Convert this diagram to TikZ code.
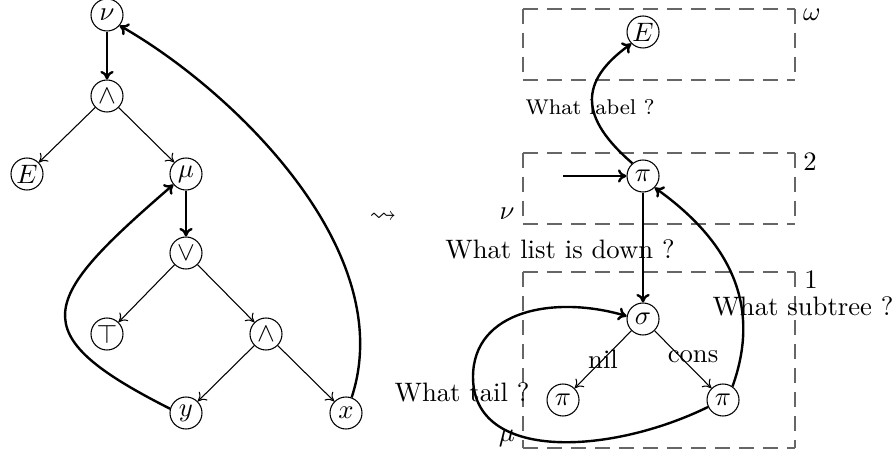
\documentclass[tikz,border=0pt]{standalone}
\usepackage{amssymb}
\usetikzlibrary{arrows.meta}

\tikzset{
  vtx/.style={draw,circle,inner sep=0pt,minimum size=12pt,line width=0.4pt},
  thinarr/.style={-{Computer Modern Rightarrow[length=3pt,width=4.5pt]},line width=0.4pt},
  thickarr/.style={-{Computer Modern Rightarrow[length=3.2pt,width=5pt]},line width=0.9pt},
  dashbox/.style={black!60,line width=0.5pt,dash pattern=on 5.6pt off 3.4pt},
  lbl/.style={inner sep=0pt}
}

\begin{document}
\begin{tikzpicture}[x=0.375pt,y=-0.375pt]
  \useasboundingbox (0,0) rectangle (896,457);

  % --- left graph ---
  \node[vtx] (nu)   at (107,15)  {$\nu$};
  \node[vtx] (andA) at (107,96)  {$\wedge$};
  \node[vtx] (eL)   at (27,174)  {$E$};
  \node[vtx] (mu)   at (186,174) {$\mu$};
  \node[vtx] (orN)  at (186,253) {$\vee$};
  \node[vtx] (top)  at (107,334) {$\top$};
  \node[vtx] (andB) at (266,334) {$\wedge$};
  \node[vtx] (yv)   at (186,413) {$y$};
  \node[vtx] (xv)   at (346,413) {$x$};

  \draw[thickarr] (nu) -- (andA);
  \draw[thinarr] (andA) -- (eL);
  \draw[thinarr] (andA) -- (mu);
  \draw[thickarr] (mu) -- (orN);
  \draw[thinarr] (orN) -- (top);
  \draw[thinarr] (orN) -- (andB);
  \draw[thinarr] (andB) -- (yv);
  \draw[thinarr] (andB) -- (xv);
  % back edges
  \draw[thickarr] (yv.165) .. controls (20,333) and (40,300) .. (mu.220);
  \draw[thickarr] (xv.70) .. controls (400,250) and (231,89) .. (nu.-40);

  \node[lbl] (tr) at (383,217) {$\leadsto$};

  % --- right graph: levels (each side dashed from its corner) ---
  \foreach \yt/\yb in {9/80,153/224,272/448}{
    \draw[dashbox] (523,\yt) -- (795,\yt) (795,\yt) -- (795,\yb)
      (523,\yt) -- (523,\yb) (523,\yb) -- (795,\yb);
  }
  \node[lbl] (lvw) at (812,15)  {$\omega$};
  \node[lbl] (lv2) at (810,162) {$2$};
  \node[lbl] (lv1) at (811,280) {$1$};
  \node[lbl] (lnu) at (507,214) {$\nu$};
  \node[lbl] (lmu) at (507,438) {$\mu$};

  \node[vtx] (eR)    at (643,32)  {$E$};
  \node[vtx] (piT)   at (643,176) {$\pi$};
  \node[vtx] (sigma) at (643,319) {$\sigma$};
  \node[vtx] (piL)   at (563,400) {$\pi$};
  \node[vtx] (piR)   at (723,400) {$\pi$};

  \coordinate (entry) at (563,176);
  \coordinate (loop) at (473,377);

  \draw[thickarr] (entry) -- (piT);
  \draw[thickarr] (piT.130) .. controls (580,118) and (578,82) .. (eR.225);
  \draw[thickarr] (piT) -- (sigma);
  \draw[thinarr] (sigma) -- node[lbl] {nil} (piL);
  \draw[thinarr] (sigma) -- node[lbl,xshift=3.75pt,yshift=1pt] {cons} (piR);
  \draw[thickarr] (piR.55) .. controls (760,310) and (735,245) .. (piT.-45);
  \draw[thickarr] (piR.205) .. controls (610,455) and (473,462) .. (loop)
    .. controls (473,310) and (555,295) .. (sigma.170);

  % questions
  \node[lbl,font=\footnotesize] (qlabel) at (590,107) {What label ?};
  \node[lbl] (qdown) at (560,249) {What list is down ?};
  \node[lbl] (qsub)  at (803,306) {What subtree ?};
  \node[lbl] (qtail) at (462,392) {What tail ?};
\end{tikzpicture}
\end{document}
